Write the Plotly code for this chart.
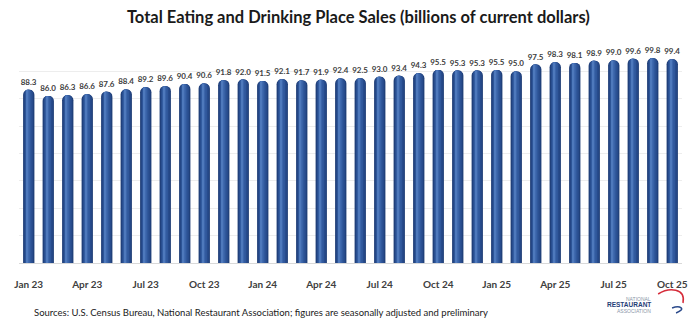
import plotly.graph_objects as go

months = ["Jan", "Feb", "Mar", "Apr", "May", "Jun", "Jul", "Aug", "Sep", "Oct", "Nov", "Dec"]
categories = [f"{m} {y}" for y in ("23", "24", "25") for m in months][:34]
sales = [88.3, 86.0, 86.3, 86.6, 87.6, 88.4, 89.2, 89.6, 90.4, 90.6, 91.8, 92.0,
         91.5, 92.1, 91.7, 91.9, 92.4, 92.5, 93.0, 93.4, 94.3, 95.5, 95.3, 95.3,
         95.5, 95.0, 97.5, 98.3, 98.1, 98.9, 99.0, 99.6, 99.8, 99.4]
tick_vals = categories[::3]

title = "Total Eating and Drinking Place Sales (billions of current dollars)"
source = "Sources: U.S. Census Bureau, National Restaurant Association; figures are seasonally adjusted and preliminary"

fig = go.Figure()
# cylinder shading layers (outer -> inner)
layers = [
    (0.58, "#1F3E77", 0.0),
    (0.46, "#274B8C", 0.0),
    (0.32, "#30589C", -0.02),
    (0.18, "#3C66AB", -0.04),
    (0.07, "#4E79BC", -0.06),
]
for i, (w, c, off) in enumerate(layers):
    fig.add_trace(go.Bar(
        x=categories, y=sales, width=w, offset=-w / 2 + off,
        marker=dict(color=c, line=dict(width=0), cornerradius="50%"),
        hoverinfo="skip" if i else None,
        text=[f"<b>{v:.1f}</b>" for v in sales] if i == 0 else None,
        textposition="outside" if i == 0 else "none",
        constraintext="none",
        textfont=dict(family="Lato", size=8, color="#404040"),
        cliponaxis=False,
        showlegend=False,
    ))

fig.update_layout(
    width=700, height=321,
    margin=dict(l=19, r=14, t=44, b=58),
    paper_bgcolor="white", plot_bgcolor="white",
    barmode="overlay",
    title=dict(text=f"<b>{title}</b>", x=0.512, xanchor="center", y=0.945, yanchor="middle",
               font=dict(family="Lato", size=16.5, color="#1a1a1a")),
    xaxis=dict(type="category", tickmode="array", tickvals=tick_vals,
               ticktext=[f"<b>{t}</b>" for t in tick_vals],
               ticks="outside", ticklen=12, tickcolor="rgba(0,0,0,0)",
               tickfont=dict(family="Lato", size=10, color="#404040"),
               showline=True, linecolor="#D9D9D9", linewidth=1, showgrid=False),
    yaxis=dict(range=[25, 105], tick0=25, dtick=10, showticklabels=False,
               showgrid=True, gridcolor="#EDEDED", gridwidth=1, zeroline=False),
)

fig.add_annotation(text=source, xref="paper", yref="paper", x=(32 - 19) / 667, y=-(312 - 263) / 219,
                   xanchor="left", yanchor="middle", showarrow=False,
                   font=dict(family="Lato", size=9.5, color="#1a1a1a"))

# logo
def px(x, y):
    return (x - 19) / 667, (263 - y) / 219

for txt, yy, sz, col in [("NATIONAL", 299, 5, "#8A96A8"),
                         ("<b>RESTAURANT</b>", 304.8, 6.5, "#1F3E77"),
                         ("ASSOCIATION", 310.5, 5, "#8A96A8")]:
    lx, ly = px(656, yy)
    fig.add_annotation(text=txt, xref="paper", yref="paper", x=lx, y=ly, showarrow=False,
                       yanchor="middle", borderpad=0,
                       font=dict(family="Liberation Sans", size=sz, color=col))

def path(points):
    pts = [px(x, y) for x, y in points]
    s = f"M {pts[0][0]} {pts[0][1]}"
    for i in range(1, len(pts) - 2, 3):
        a, b, c = pts[i], pts[i + 1], pts[i + 2]
        s += f" C {a[0]} {a[1]}, {b[0]} {b[1]}, {c[0]} {c[1]}"
    return s

fig.add_shape(type="path", xref="paper", yref="paper",
              path=path([(662, 294), (673, 287), (690, 288), (687, 303)]),
              line=dict(color="#D62C3A", width=1.5))
fig.add_shape(type="path", xref="paper", yref="paper",
              path=path([(676, 308), (684, 305), (691, 309), (680, 313)]),
              line=dict(color="#2B4A8B", width=1.5))

fig.write_html("out.html")
